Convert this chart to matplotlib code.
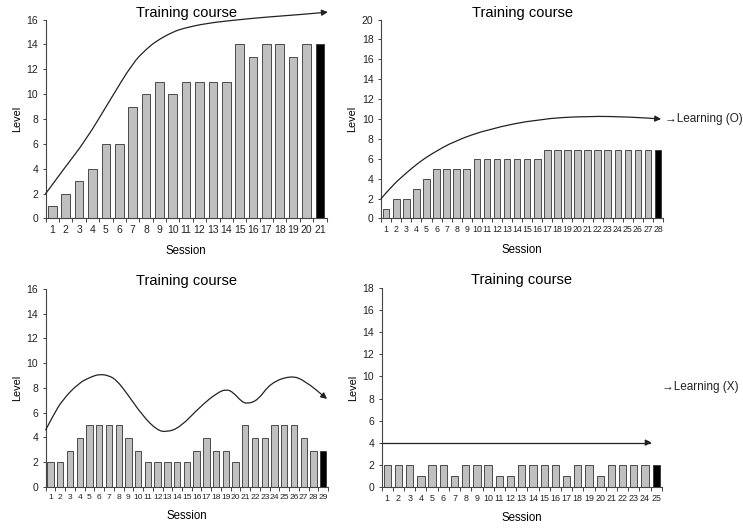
#!/usr/bin/env python3
"""Four training-course panels: level per session with learning trend arrows."""

import matplotlib

matplotlib.use("Agg")
import matplotlib.pyplot as plt
from matplotlib.patches import FancyArrowPatch
from matplotlib.path import Path
import numpy as np

INK = "#222222"
BAR = "#c0c0c0"
LAST = "#000000"

# bar levels per session (last session drawn black)
levels_a = [1, 2, 3, 4, 6, 6, 9, 10, 11, 10, 11, 11, 11, 11, 14, 13, 14, 14, 13, 14, 14]
levels_b = [1, 2, 2, 3, 4, 5, 5, 5, 5, 6, 6, 6, 6, 6, 6, 6,
            6.9, 6.9, 6.9, 6.9, 6.9, 6.9, 6.9, 6.9, 6.9, 6.9, 6.9, 6.9]
levels_c = [2, 2, 2.85, 3.9, 5, 5, 5, 5, 3.9, 2.85, 2, 2, 2, 2, 2, 2.85, 3.9, 2.85, 2.85, 2,
            5, 3.95, 3.95, 5, 5, 5, 3.95, 2.9, 2.9]
levels_d = [2, 2, 2, 1, 2, 2, 1, 2, 2, 2, 1, 1, 2, 2, 2, 2, 1, 2, 2, 1, 2, 2, 2, 2, 2]

# trend curves (session, level)
trend_a_x = [0.5, 2.0, 3.5, 5.3, 7.0, 8.0, 8.8, 10.0, 10.8, 12.5, 15.0, 17.0, 19.5, 21.6]
trend_a_y = [2.0, 4.2, 6.3, 9.5, 12.5, 13.6, 14.3, 15.0, 15.3, 15.7, 16.0, 16.2, 16.4, 16.6]
trend_b_x = [0.5, 1.5, 2.9, 4.2, 5.5, 7.8, 11.2, 16.1, 21.1, 25.4, 28.3]
trend_b_y = [2.0, 3.2, 4.5, 5.6, 6.5, 7.8, 9.0, 10.0, 10.3, 10.2, 10.0]
trend_c_x = [0.5, 1.3, 2.2, 3.9, 5.2, 6.0, 7.0, 7.8, 8.8, 10.5, 11.9, 12.9, 14.3, 16.4,
             18.1, 19.1, 19.8, 20.6, 21.2, 22.3, 23.6, 25.7, 27.1, 29.4]
trend_c_y = [4.6, 5.8, 7.0, 8.4, 8.9, 9.1, 9.0, 8.6, 7.6, 5.7, 4.6, 4.4, 4.8, 6.5,
             7.6, 7.9, 7.6, 6.9, 6.7, 7.0, 8.4, 9.0, 8.6, 7.1]
trend_d_x = [0.5, 24.6]
trend_d_y = [4.0, 4.0]

panels = [
    # levels, ymax, axes rect, x tick size, title pad, curve, side note
    (levels_a, 16, [0.0615, 0.587, 0.378, 0.376], 7.5, 1.5, (trend_a_x, trend_a_y), None),
    (levels_b, 20, [0.513, 0.587, 0.3795, 0.376], 6.3, 1.5, (trend_b_x, trend_b_y), ("Learning (O)", 28.7, 10.0)),
    (levels_c, 16, [0.0615, 0.080, 0.380, 0.3737], 6.1, 3, (trend_c_x, trend_c_y), None),
    (levels_d, 18, [0.5137, 0.080, 0.377, 0.375], 6.4, 3, (trend_d_x, trend_d_y), ("Learning (X)", 25.5, 9.0)),
]

plt.rcParams.update({
    "font.family": ["Liberation Sans", "DejaVu Sans"],
    "axes.edgecolor": "#444444",
    "xtick.color": "#444444",
    "ytick.color": "#444444",
    "xtick.labelcolor": INK,
    "ytick.labelcolor": INK,
})


def smooth_path(xs, ys):
    pts = np.column_stack([xs, ys])
    if len(pts) == 2:
        return Path(pts, [Path.MOVETO, Path.LINETO])
    verts = [pts[0]]
    codes = [Path.MOVETO]
    for i in range(1, len(pts) - 1):
        verts += [pts[i], (pts[i] + pts[i + 1]) / 2]
        codes += [Path.CURVE3, Path.CURVE3]
    verts.append(pts[-1])
    codes.append(Path.LINETO)
    return Path(verts, codes)


fig = plt.figure(figsize=(7.43, 5.29), dpi=100)

for levels, ymax, rect, xsize, tpad, (cx, cy), note in panels:
    ax = fig.add_axes(rect)
    n = len(levels)
    x = np.arange(1, n + 1)
    colors = [BAR] * (n - 1) + [LAST]
    ax.bar(x, levels, width=0.65, color=colors, edgecolor="#333333", linewidth=0.6, zorder=2)
    ax.set_xlim(0.5, n + 0.5)
    ax.set_ylim(0, ymax)
    ax.set_yticks(np.arange(0, ymax + 1, 2))
    ax.set_xticks(x)
    ax.set_xticks(np.arange(0.5, n + 1), minor=True)
    ax.tick_params(axis="x", which="major", length=0, pad=5, labelsize=xsize)
    ax.tick_params(axis="x", which="minor", length=3, width=0.7, direction="out")
    ax.tick_params(axis="y", length=2.5, width=0.7, pad=3, labelsize=7.5)
    ax.spines[["top", "right"]].set_visible(False)
    for s in ("left", "bottom"):
        ax.spines[s].set_linewidth(0.8)
    ax.set_ylabel("Level", fontsize=7.8, labelpad=3)
    ax.set_xlabel("Session", fontsize=8.3, labelpad=7)
    ax.set_title("Training course", fontsize=10.5, pad=tpad)

    arrow = FancyArrowPatch(path=smooth_path(cx, cy), arrowstyle="-|>", mutation_scale=9,
                            color=INK, linewidth=0.9, clip_on=False, zorder=3)
    ax.add_patch(arrow)

    if note is not None:
        label, nx, ny = note
        ax.text(nx, ny, "\u2192" + label, fontsize=8.5, ha="left", va="center", color=INK, clip_on=False)

fig.savefig("out.png", dpi=100)
